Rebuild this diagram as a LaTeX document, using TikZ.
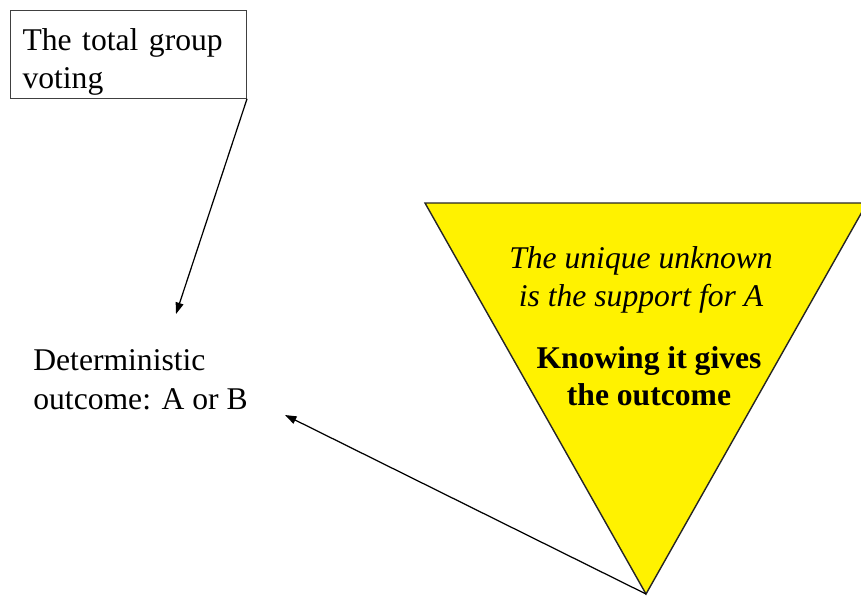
\documentclass[tikz,border=0pt]{standalone}
\usepackage{fontspec}
\setmainfont{Liberation Serif}
\usetikzlibrary{positioning, arrows.meta}
\tikzset{
    vote edge/.style = {draw, line width=0.7pt, -{Triangle[length=6.5pt, width=4.5pt]}},
}
\tikzset{
    plain text/.style = {inner sep=0pt, font=\fontsize{18}{21.5}\selectfont},
    group box/.style = {plain text, draw=black!75, line width=0.6pt, anchor=north west,
        text width=4.24cm, inner xsep=0.24cm, inner ysep=0pt, align=left},
}
\begin{document}
\begin{tikzpicture}[x=0.02cm, y=-0.02cm]
            \useasboundingbox (0,0) rectangle (861,596);
            \clip (0,0) rectangle (861,596);
            \coordinate (tl) at (425,203);
            \coordinate (tr) at (867,203);
            \coordinate (bt) at (646,594);
            \filldraw[fill=yellow, draw=black!85, line width=0.8pt, line join=miter] (tl) -- (tr) -- (bt) -- cycle;

            \node (grp) [group box] at (10,10) {\rule{0pt}{0.8cm}The total group\\voting\rule[-0.2cm]{0pt}{0.2cm}};
            \node (det) [plain text, anchor=north west, align=left, font=\fontsize{18}{22}\selectfont] at (33,349.4) {Deterministic\\outcome: A or B};
            \node (unk) [plain text, align=center, font=\fontsize{18}{21.5}\selectfont\itshape] at (641,279.5) {The unique unknown\\is the support for A};
            \node (know) [plain text, align=center, font=\fontsize{18}{21.5}\selectfont\bfseries] at (649,376.3) {Knowing it gives\\the outcome};

            \coordinate (tipA) at (176,314);
            \coordinate (tipB) at (285,415);
            \draw[vote edge] (grp.south east) -- (tipA);
            \draw[vote edge] (bt) -- (tipB);
        \end{tikzpicture}
\end{document}
